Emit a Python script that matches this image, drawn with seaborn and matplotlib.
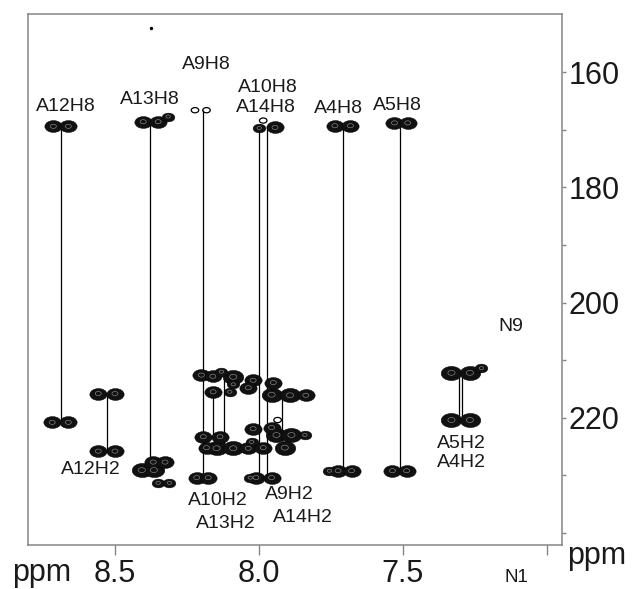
import numpy as np
import pandas as pd
import matplotlib
matplotlib.use('Agg')
import matplotlib.pyplot as plt
from matplotlib.markers import MarkerStyle
from matplotlib.transforms import Affine2D
import seaborn as sns

# ---- data (1H ppm / 15N ppm) ----
# cross peaks: x = 1H, y = 15N, kind = contour size class
peak_x = [8.714, 8.662, 8.402, 8.350, 8.315, 7.999, 7.944, 7.736, 7.682, 7.529, 7.483,
          8.718, 8.662, 8.558, 8.500, 8.558, 8.500,
          8.407, 8.365, 8.367, 8.326, 8.350, 8.311,
          8.216, 8.176, 8.030, 8.010, 7.956,
          7.755, 7.725, 7.678, 7.536, 7.487,
          7.331, 7.267, 7.227, 7.331, 7.267,
          8.200, 8.160, 8.089, 8.130, 8.020, 7.950, 8.037, 8.089,
          8.159, 8.101, 7.956, 7.892, 7.837,
          8.020, 7.956, 7.939, 7.887, 7.840,
          8.193, 8.135, 8.182, 8.147, 8.089, 8.037, 8.025, 7.985, 7.910]
peak_y = [169.4, 169.4, 168.6, 168.6, 167.7, 169.7, 169.6, 169.3, 169.3, 168.8, 168.8,
          220.8, 220.8, 215.8, 215.8, 225.8, 225.8,
          229.1, 229.1, 227.7, 227.7, 231.3, 231.3,
          230.4, 230.4, 230.4, 230.4, 230.4,
          229.2, 229.2, 229.2, 229.2, 229.2,
          212.2, 212.2, 211.4, 220.4, 220.4,
          212.6, 212.8, 212.9, 212.0, 213.5, 213.9, 214.8, 214.2,
          215.5, 215.5, 216.0, 216.1, 216.1,
          221.9, 221.7, 223.0, 223.0, 223.0,
          223.3, 223.3, 225.2, 225.3, 225.3, 225.3, 224.2, 225.2, 225.2]
peak_kind = ['M', 'M', 'M', 'M', 'S', 'S', 'M', 'M', 'M', 'M', 'M',
             'M', 'M', 'M', 'M', 'M', 'M',
             'L', 'L', 'M', 'M', 'S', 'S',
             'M', 'M', 'S', 'M', 'M',
             'S', 'M', 'M', 'M', 'M',
             'L', 'L', 'S', 'L', 'L',
             'M', 'M', 'L', 'S', 'M', 'M', 'M', 'S',
             'M', 'S', 'L', 'L', 'M',
             'M', 'M', 'L', 'L', 'S',
             'M', 'M', 'M', 'L', 'L', 'M', 'S', 'M', 'L']

# weak peaks drawn as single contour rings (last one is the stray speck)
weak_x = [8.222, 8.182, 7.985, 7.935, 8.376]
weak_y = [166.6, 166.6, 168.4, 220.4, 152.4]

# sequential-walk connectors: x, y from, y to
conn_x = [8.689, 8.529, 8.378, 8.193, 8.159, 8.120, 8.000, 7.971, 7.918, 7.707, 7.510, 7.306, 7.293]
conn_y0 = [169.4, 215.8, 168.6, 166.6, 215.2, 212.6, 169.7, 169.6, 216.1, 169.3, 168.8, 212.2, 212.2]
conn_y1 = [220.8, 225.8, 227.0, 230.4, 223.3, 225.1, 230.4, 230.4, 223.3, 229.2, 229.2, 220.4, 220.4]

# assignments
label_text = ['A12H8', 'A13H8', 'A9H8', 'A10H8', 'A14H8', 'A4H8', 'A5H8',
              'A12H2', 'A10H2', 'A13H2', 'A9H2', 'A14H2', 'A5H2', 'A4H2', 'N9']
label_x = [8.670, 8.378, 8.182, 7.968, 7.976, 7.722, 7.519,
           8.584, 8.141, 8.114, 7.895, 7.848, 7.296, 7.296, 7.125]
label_y = [165.9, 164.7, 158.7, 162.6, 166.1, 166.3, 165.7,
           229.0, 234.4, 238.4, 233.4, 237.3, 224.5, 227.7, 204.2]

x_ticks = [8.5, 8.0, 7.5, 7.0]
x_ticklabels = ['8.5', '8.0', '7.5', '']
y_ticks = [160, 170, 180, 190, 200, 210, 220, 230, 240]
y_ticklabels = ['160', '', '180', '', '200', '', '220', '', '']

peaks = pd.DataFrame({'H': peak_x, 'N': peak_y, 'kind': peak_kind})

# ---- style ----
sns.set_style('white')
plt.rcParams['font.family'] = ['Liberation Sans', 'DejaVu Sans']
grey = '#858585'
txt = '#1a1a1a'

fig = plt.figure(figsize=(6.32, 5.89), dpi=100)
ax = fig.add_axes([0.0448, 0.0747, 0.8440, 0.9015])

ell = MarkerStyle('o', transform=Affine2D().scale(1.45, 1.0))
sizes = {'L': 105, 'M': 74, 'S': 40}

# connectors
ax.vlines(conn_x, conn_y0, conn_y1, colors='black', linewidth=0.9, zorder=2)

# contour blobs
for k, s in sizes.items():
    sub = peaks[peaks['kind'] == k]
    sns.scatterplot(data=sub, x='H', y='N', s=s, marker=ell, color='#111111',
                    edgecolor='black', linewidth=0.3, ax=ax, zorder=3, legend=False)
    # faint inner contour level
    ax.scatter(sub['H'], sub['N'], s=s * 0.12, marker=ell, facecolors='none',
               edgecolors='#9a9a9a', linewidths=0.4, zorder=4)

ax.scatter(weak_x[:-1], weak_y[:-1], s=14, marker=ell, facecolors='none',
           edgecolors='black', linewidths=0.9, zorder=3)
ax.scatter(weak_x[-1:], weak_y[-1:], s=2, color='black', zorder=3)

for t, x, y in zip(label_text, label_x, label_y):
    ax.text(x, y, t, ha='center', va='center', fontsize=14, color=txt)

ax.set_xlim(8.801, 6.948)
ax.set_ylim(242.1, 149.9)
ax.set_xticks(x_ticks)
ax.set_xticklabels(x_ticklabels)
ax.set_yticks(y_ticks)
ax.set_yticklabels(y_ticklabels)
ax.set_xlabel('')
ax.set_ylabel('')
ax.yaxis.tick_right()
ax.tick_params(axis='y', which='both', right=True, left=False, labelright=True,
               labelleft=False, direction='out', length=3, width=1, color=grey,
               pad=2, labelsize=22, labelcolor=txt)
ax.tick_params(axis='x', bottom=True, direction='out', length=7, width=1, color=grey,
               pad=3, labelsize=22, labelcolor=txt)
for sp in ax.spines.values():
    sp.set_visible(True)
    sp.set_color(grey)
    sp.set_linewidth(1.1)
ax.grid(False)

fig.text(0.066, 0.014, 'ppm', ha='center', va='baseline', fontsize=22, color=txt)
fig.text(0.8967, 0.0424, 'ppm', ha='left', va='baseline', fontsize=22, color=txt)
fig.text(0.8165, 0.0187, 'N1', ha='center', va='center', fontsize=13.5, color=txt)

fig.savefig('out.png', dpi=100)
